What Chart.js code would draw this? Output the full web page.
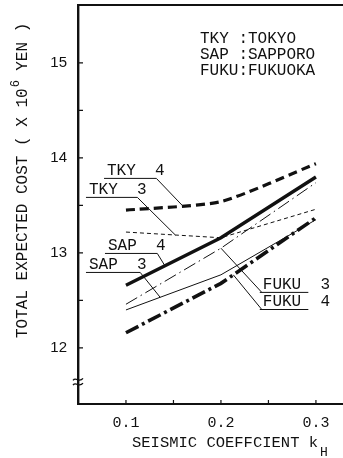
<!DOCTYPE html>
<html>
<head>
<meta charset="utf-8">
<script src="https://cdn.jsdelivr.net/npm/chart.js@4.4.1/dist/chart.umd.min.js"></script>
<style>
  html, body { margin: 0; padding: 0; background: #fff; }
  canvas { display: block; }
</style>
</head>
<body>
<canvas id="costChart" width="343" height="458"></canvas>
<script>
// seismic coefficient kH and total expected cost (x 10^6 yen)
const kH = [0.1, 0.2, 0.3];
const tky4 = [13.45, 13.54, 13.94];
const tky3 = [13.22, 13.16, 13.46];
const sap4 = [12.66, 13.16, 13.80];
const sap3 = [12.40, 12.77, 13.35];
const fuku3 = [12.46, 13.05, 13.74];
const fuku4 = [12.16, 12.68, 13.37];
const yTickValues = [12, 13, 14, 15];
const xTickValues = [0.1, 0.2, 0.3];
const cityKey = ['TKY :TOKYO', 'SAP :SAPPORO', 'FUKU:FUKUOKA'];

const ink = '#111';
const mono = '"Liberation Mono", "DejaVu Sans Mono", monospace';

function pts(vals) {
    return kH.map(function (k, i) { return { x: k, y: vals[i] }; });
}

function isOneOf(v, list) {
    return list.some(function (t) { return Math.abs(t - v) < 1e-6; });
}

// curve labels: underline (data coords) and leader to the curve
const curveLabels = [
    { text: 'TKY  4', ds: 0, x0: 0.079, x1: 0.132, y: 13.79, from: 'end', at: 0.159 },
    { text: 'TKY  3', ds: 1, x0: 0.060, x1: 0.112, y: 13.59, from: 'end', at: 0.152 },
    { text: 'SAP  4', ds: 2, x0: 0.080, x1: 0.133, y: 13.00, from: 'end', at: 0.141 },
    { text: 'SAP  3', ds: 3, x0: 0.060, x1: 0.115, y: 12.80, from: 'end', at: 0.136 },
    { text: 'FUKU  3', ds: 4, x0: 0.243, x1: 0.292, y: 12.59, from: 'start', at: 0.200 },
    { text: 'FUKU  4', ds: 5, x0: 0.243, x1: 0.292, y: 12.41, from: 'start', at: 0.213 }
];

function yOnCurve(chart, ds, px) {
    const p = chart.getDatasetMeta(ds).data;
    for (let i = 0; i < p.length - 1; i++) {
        if (px >= p[i].x && px <= p[i + 1].x) {
            const t = (px - p[i].x) / (p[i + 1].x - p[i].x);
            return p[i].y + t * (p[i + 1].y - p[i].y);
        }
    }
    return p[p.length - 1].y;
}

const paperPlugin = {
    id: 'paper',
    afterDraw: function (chart) {
        const ctx = chart.ctx;
        const a = chart.chartArea;
        const xs = chart.scales.x;
        const ys = chart.scales.y;
        ctx.save();
        ctx.strokeStyle = ink;
        ctx.fillStyle = ink;

        // top frame line
        ctx.lineWidth = 2;
        ctx.beginPath();
        ctx.moveTo(a.left, a.top);
        ctx.lineTo(a.right, a.top);
        ctx.stroke();

        // inward tick marks
        ctx.lineWidth = 1.2;
        ctx.beginPath();
        for (let v = 12; v <= 15.01; v += 0.5) {
            const py = ys.getPixelForValue(v);
            ctx.moveTo(a.left, py);
            ctx.lineTo(a.left + 5, py);
        }
        for (let v = 0.1; v <= 0.301; v += 0.05) {
            const px = xs.getPixelForValue(v);
            ctx.moveTo(px, a.bottom);
            ctx.lineTo(px, a.bottom - 4);
        }
        ctx.stroke();

        // axis break mark
        ctx.lineWidth = 1.3;
        [11.67, 11.62].forEach(function (v) {
            const py = ys.getPixelForValue(v);
            ctx.beginPath();
            ctx.moveTo(a.left - 5, py + 1);
            ctx.bezierCurveTo(a.left - 2, py - 3, a.left + 1, py + 4, a.left + 5, py - 1);
            ctx.stroke();
        });

        // curve labels
        ctx.font = '16px ' + mono;
        ctx.textAlign = 'left';
        ctx.textBaseline = 'alphabetic';
        ctx.lineWidth = 1;
        curveLabels.forEach(function (c) {
            const x0 = xs.getPixelForValue(c.x0);
            const x1 = xs.getPixelForValue(c.x1);
            const py = ys.getPixelForValue(c.y);
            ctx.fillText(c.text, x0 + 1, py - 3);
            const lx = xs.getPixelForValue(c.at);
            const ly = yOnCurve(chart, c.ds, lx);
            const sx = c.from === 'end' ? x1 : x0;
            ctx.beginPath();
            ctx.moveTo(x0 - 2, py + 0.5);
            ctx.lineTo(x1, py + 0.5);
            ctx.moveTo(sx, py + 0.5);
            ctx.lineTo(lx, ly);
            ctx.stroke();
        });

        // city key
        ctx.font = '16px ' + mono;
        cityKey.forEach(function (t, i) {
            ctx.fillText(t, 200, 43 + i * 16);
        });

        // x axis title with subscript
        ctx.font = '15.5px ' + mono;
        ctx.fillText('SEISMIC COEFFCIENT k', 132, 447);
        ctx.font = '13px ' + mono;
        ctx.fillText('H', 320, 456);

        // y axis title, rotated, with superscript
        ctx.translate(27, 338);
        ctx.rotate(-Math.PI / 2);
        ctx.font = '16px ' + mono;
        const head = 'TOTAL EXPECTED COST ( X 10';
        ctx.fillText(head, 0, 0);
        const w = ctx.measureText(head).width;
        ctx.fillText(' YEN )', w + 8, 0);
        ctx.font = '12px ' + mono;
        ctx.fillText('6', w + 1, -8);
        ctx.restore();
    }
};

const ctx = document.getElementById('costChart').getContext('2d');
const costChart = new Chart(ctx, {
    type: 'line',
    data: {
        datasets: [
            { label: 'TKY 4', data: pts(tky4), borderWidth: 3.2, borderDash: [9, 5], tension: 0.2 },
            { label: 'TKY 3', data: pts(tky3), borderWidth: 1, borderDash: [4, 3] },
            { label: 'SAP 4', data: pts(sap4), borderWidth: 3.4 },
            { label: 'SAP 3', data: pts(sap3), borderWidth: 1 },
            { label: 'FUKU 3', data: pts(fuku3), borderWidth: 1, borderDash: [13, 4, 1.5, 4] },
            { label: 'FUKU 4', data: pts(fuku4), borderWidth: 3.6, borderDash: [14, 4, 3, 4] }
        ].map(function (d) {
            return Object.assign({ borderColor: ink, backgroundColor: ink, pointRadius: 0, fill: false, tension: 0 }, d);
        })
    },
    options: {
        responsive: false,
        animation: false,
        layout: { padding: { top: 5, left: 0, right: 0, bottom: 0 } },
        plugins: {
            legend: { display: false },
            tooltip: { enabled: false }
        },
        scales: {
            x: {
                type: 'linear',
                min: 0.0495,
                max: 0.3285,
                grid: { display: false, drawTicks: false },
                border: { display: true, color: ink, width: 2 },
                ticks: {
                    stepSize: 0.05,
                    includeBounds: false,
                    autoSkip: false,
                    maxRotation: 0,
                    padding: 10,
                    color: ink,
                    font: { family: mono, size: 15 },
                    callback: function (v) {
                        return isOneOf(v, xTickValues) ? v.toFixed(1) : '';
                    }
                },
                afterFit: function (s) {
                    s.height = 54;
                    s.paddingLeft = 0;
                    s.paddingRight = 0;
                }
            },
            y: {
                min: 11.41,
                max: 15.61,
                grid: { display: false, drawTicks: false },
                border: { display: true, color: ink, width: 2.4 },
                ticks: {
                    stepSize: 0.5,
                    includeBounds: false,
                    autoSkip: false,
                    padding: 11,
                    color: ink,
                    font: { family: '"Liberation Sans", Arial, sans-serif', size: 15 },
                    callback: function (v) {
                        return isOneOf(v, yTickValues) ? String(v) : '';
                    }
                },
                afterFit: function (s) {
                    s.width = 78;
                    s.paddingTop = 0;
                    s.paddingBottom = 0;
                }
            }
        }
    },
    plugins: [paperPlugin]
});
</script>
</body>
</html>
